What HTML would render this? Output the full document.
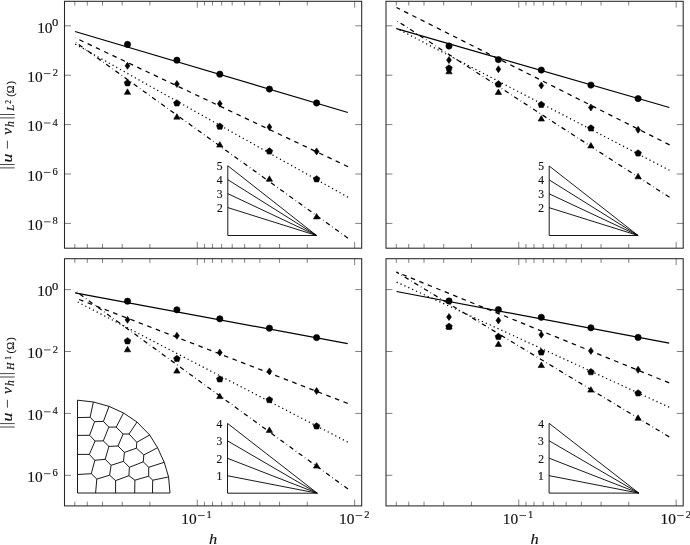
<!DOCTYPE html>
<html><head><meta charset="utf-8"><style>
html,body{margin:0;padding:0;background:#fff;}
body{width:690px;height:545px;overflow:hidden;}
svg{display:block;}
text{font-family:"Liberation Serif",serif;fill:#111;font-kerning:none;stroke:#111;stroke-width:0.15px;}
svg{will-change:transform;}
</style></head><body>
<svg width="690" height="545" viewBox="0 0 690 545">
<rect width="100%" height="100%" fill="#fff"/>
<path d="M197.27,248.2v-6.4M197.27,1.3v6.4M354.63,248.2v-6.4M354.63,1.3v6.4M74.82,248.2v-4.2M74.82,1.3v4.2M87.28,248.2v-4.2M87.28,1.3v4.2M102.53,248.2v-4.2M102.53,1.3v4.2M122.19,248.2v-4.2M122.19,1.3v4.2M149.90,248.2v-4.2M149.90,1.3v4.2M204.47,248.2v-4.2M204.47,1.3v4.2M212.52,248.2v-4.2M212.52,1.3v4.2M221.65,248.2v-4.2M221.65,1.3v4.2M232.18,248.2v-4.2M232.18,1.3v4.2M244.64,248.2v-4.2M244.64,1.3v4.2M259.89,248.2v-4.2M259.89,1.3v4.2M279.55,248.2v-4.2M279.55,1.3v4.2M307.26,248.2v-4.2M307.26,1.3v4.2M64.5,25.80h6.4M361.7,25.80h-6.4M64.5,75.20h6.4M361.7,75.20h-6.4M64.5,124.60h6.4M361.7,124.60h-6.4M64.5,174.00h6.4M361.7,174.00h-6.4M64.5,223.40h6.4M361.7,223.40h-6.4" stroke="#555" stroke-width="0.75"/>
<path d="M347.90,112.50L75.00,31.50" stroke="#000" stroke-width="1.25" fill="none"/>
<path d="M348.10,166.70L75.00,37.70" stroke="#000" stroke-width="1.25" fill="none" stroke-dasharray="4.572 4.572"/>
<path d="M348.00,197.20L75.00,44.00" stroke="#000" stroke-width="1.25" fill="none" stroke-dasharray="1.219 3.048"/>
<path d="M348.00,238.20L75.00,41.80" stroke="#000" stroke-width="1.25" fill="none" stroke-dasharray="4.572 3.048 0.610 3.048"/>
<circle cx="127.50" cy="44.40" r="3.15" fill="#000" stroke="#000" stroke-width="0.6"/>
<circle cx="176.90" cy="60.20" r="3.15" fill="#000" stroke="#000" stroke-width="0.6"/>
<circle cx="219.80" cy="74.20" r="3.15" fill="#000" stroke="#000" stroke-width="0.6"/>
<circle cx="269.40" cy="89.10" r="3.15" fill="#000" stroke="#000" stroke-width="0.6"/>
<circle cx="316.60" cy="103.00" r="3.15" fill="#000" stroke="#000" stroke-width="0.6"/>
<path d="M127.50,62.30L129.90,65.80L127.50,69.30L125.10,65.80Z" fill="#000" stroke="#000" stroke-width="0.6"/>
<path d="M176.90,80.50L179.30,84.00L176.90,87.50L174.50,84.00Z" fill="#000" stroke="#000" stroke-width="0.6"/>
<path d="M219.80,100.20L222.20,103.70L219.80,107.20L217.40,103.70Z" fill="#000" stroke="#000" stroke-width="0.6"/>
<path d="M269.40,123.60L271.80,127.10L269.40,130.60L267.00,127.10Z" fill="#000" stroke="#000" stroke-width="0.6"/>
<path d="M316.60,147.90L319.00,151.40L316.60,154.90L314.20,151.40Z" fill="#000" stroke="#000" stroke-width="0.6"/>
<path d="M127.50,79.65L124.22,82.03L125.47,85.89L129.53,85.89L130.78,82.03Z" fill="#000" stroke="#000" stroke-width="0.6"/>
<path d="M176.90,99.75L173.62,102.13L174.87,105.99L178.93,105.99L180.18,102.13Z" fill="#000" stroke="#000" stroke-width="0.6"/>
<path d="M219.80,123.05L216.52,125.43L217.77,129.29L221.83,129.29L223.08,125.43Z" fill="#000" stroke="#000" stroke-width="0.6"/>
<path d="M269.40,147.85L266.12,150.23L267.37,154.09L271.43,154.09L272.68,150.23Z" fill="#000" stroke="#000" stroke-width="0.6"/>
<path d="M316.60,175.65L313.32,178.03L314.57,181.89L318.63,181.89L319.88,178.03Z" fill="#000" stroke="#000" stroke-width="0.6"/>
<path d="M127.50,88.85L124.34,94.33L130.66,94.33Z" fill="#000" stroke="#000" stroke-width="0.6"/>
<path d="M176.90,113.65L173.74,119.13L180.06,119.13Z" fill="#000" stroke="#000" stroke-width="0.6"/>
<path d="M219.80,141.65L216.64,147.12L222.96,147.12Z" fill="#000" stroke="#000" stroke-width="0.6"/>
<path d="M269.40,175.75L266.24,181.22L272.56,181.22Z" fill="#000" stroke="#000" stroke-width="0.6"/>
<path d="M316.60,213.45L313.44,218.92L319.76,218.92Z" fill="#000" stroke="#000" stroke-width="0.6"/>
<path d="M227.8,235.5H316.6M227.8,235.5V165.75M227.8,207.60L316.6,235.5M227.8,193.65L316.6,235.5M227.8,179.70L316.6,235.5M227.8,165.75L316.6,235.5" stroke="#000" stroke-width="0.9" fill="none"/>
<text x="216.92" y="212.19" font-size="11.6" font-style="normal">2</text>
<text x="216.80" y="198.18" font-size="11.6" font-style="normal">3</text>
<text x="216.83" y="184.27" font-size="11.6" font-style="normal">4</text>
<text x="216.74" y="170.24" font-size="11.6" font-style="normal">5</text>
<rect x="64.5" y="1.3" width="297.20" height="246.90" stroke="#262626" stroke-width="1.05" fill="none"/>
<path d="M518.77,248.2v-6.4M518.77,1.3v6.4M676.13,248.2v-6.4M676.13,1.3v6.4M396.32,248.2v-4.2M396.32,1.3v4.2M408.78,248.2v-4.2M408.78,1.3v4.2M424.03,248.2v-4.2M424.03,1.3v4.2M443.69,248.2v-4.2M443.69,1.3v4.2M471.40,248.2v-4.2M471.40,1.3v4.2M525.97,248.2v-4.2M525.97,1.3v4.2M534.02,248.2v-4.2M534.02,1.3v4.2M543.15,248.2v-4.2M543.15,1.3v4.2M553.68,248.2v-4.2M553.68,1.3v4.2M566.14,248.2v-4.2M566.14,1.3v4.2M581.39,248.2v-4.2M581.39,1.3v4.2M601.05,248.2v-4.2M601.05,1.3v4.2M628.76,248.2v-4.2M628.76,1.3v4.2M386.0,25.80h6.4M683.2,25.80h-6.4M386.0,75.20h6.4M683.2,75.20h-6.4M386.0,124.60h6.4M683.2,124.60h-6.4M386.0,174.00h6.4M683.2,174.00h-6.4M386.0,223.40h6.4M683.2,223.40h-6.4" stroke="#555" stroke-width="0.75"/>
<path d="M669.40,107.50L396.50,28.60" stroke="#000" stroke-width="1.25" fill="none"/>
<path d="M669.60,144.90L396.50,7.50" stroke="#000" stroke-width="1.25" fill="none" stroke-dasharray="4.572 4.572"/>
<path d="M669.50,170.30L396.50,28.20" stroke="#000" stroke-width="1.25" fill="none" stroke-dasharray="1.219 3.048"/>
<path d="M669.50,197.30L396.50,20.50" stroke="#000" stroke-width="1.25" fill="none" stroke-dasharray="4.572 3.048 0.610 3.048"/>
<circle cx="449.00" cy="46.00" r="3.15" fill="#000" stroke="#000" stroke-width="0.6"/>
<circle cx="498.40" cy="59.60" r="3.15" fill="#000" stroke="#000" stroke-width="0.6"/>
<circle cx="541.30" cy="70.10" r="3.15" fill="#000" stroke="#000" stroke-width="0.6"/>
<circle cx="590.90" cy="85.10" r="3.15" fill="#000" stroke="#000" stroke-width="0.6"/>
<circle cx="638.10" cy="98.60" r="3.15" fill="#000" stroke="#000" stroke-width="0.6"/>
<path d="M449.00,56.60L451.40,60.10L449.00,63.60L446.60,60.10Z" fill="#000" stroke="#000" stroke-width="0.6"/>
<path d="M498.40,65.70L500.80,69.20L498.40,72.70L496.00,69.20Z" fill="#000" stroke="#000" stroke-width="0.6"/>
<path d="M541.30,82.00L543.70,85.50L541.30,89.00L538.90,85.50Z" fill="#000" stroke="#000" stroke-width="0.6"/>
<path d="M590.90,104.00L593.30,107.50L590.90,111.00L588.50,107.50Z" fill="#000" stroke="#000" stroke-width="0.6"/>
<path d="M638.10,126.30L640.50,129.80L638.10,133.30L635.70,129.80Z" fill="#000" stroke="#000" stroke-width="0.6"/>
<path d="M449.00,64.85L445.72,67.23L446.97,71.09L451.03,71.09L452.28,67.23Z" fill="#000" stroke="#000" stroke-width="0.6"/>
<path d="M498.40,80.85L495.12,83.23L496.37,87.09L500.43,87.09L501.68,83.23Z" fill="#000" stroke="#000" stroke-width="0.6"/>
<path d="M541.30,101.25L538.02,103.63L539.27,107.49L543.33,107.49L544.58,103.63Z" fill="#000" stroke="#000" stroke-width="0.6"/>
<path d="M590.90,124.75L587.62,127.13L588.87,130.99L592.93,130.99L594.18,127.13Z" fill="#000" stroke="#000" stroke-width="0.6"/>
<path d="M638.10,149.85L634.82,152.23L636.07,156.09L640.13,156.09L641.38,152.23Z" fill="#000" stroke="#000" stroke-width="0.6"/>
<path d="M449.00,68.35L445.84,73.83L452.16,73.83Z" fill="#000" stroke="#000" stroke-width="0.6"/>
<path d="M498.40,89.05L495.24,94.53L501.56,94.53Z" fill="#000" stroke="#000" stroke-width="0.6"/>
<path d="M541.30,115.55L538.14,121.03L544.46,121.03Z" fill="#000" stroke="#000" stroke-width="0.6"/>
<path d="M590.90,142.45L587.74,147.92L594.06,147.92Z" fill="#000" stroke="#000" stroke-width="0.6"/>
<path d="M638.10,173.35L634.94,178.82L641.26,178.82Z" fill="#000" stroke="#000" stroke-width="0.6"/>
<path d="M549.2,235.5H638.1M549.2,235.5V166.00M549.2,207.70L638.1,235.5M549.2,193.80L638.1,235.5M549.2,179.90L638.1,235.5M549.2,166.00L638.1,235.5" stroke="#000" stroke-width="0.9" fill="none"/>
<text x="538.32" y="212.29" font-size="11.6" font-style="normal">2</text>
<text x="538.20" y="198.33" font-size="11.6" font-style="normal">3</text>
<text x="538.23" y="184.47" font-size="11.6" font-style="normal">4</text>
<text x="538.14" y="170.49" font-size="11.6" font-style="normal">5</text>
<rect x="386.0" y="1.3" width="297.20" height="246.90" stroke="#262626" stroke-width="1.05" fill="none"/>
<path d="M197.27,505.9v-6.4M197.27,258.7v6.4M354.63,505.9v-6.4M354.63,258.7v6.4M74.82,505.9v-4.2M74.82,258.7v4.2M87.28,505.9v-4.2M87.28,258.7v4.2M102.53,505.9v-4.2M102.53,258.7v4.2M122.19,505.9v-4.2M122.19,258.7v4.2M149.90,505.9v-4.2M149.90,258.7v4.2M204.47,505.9v-4.2M204.47,258.7v4.2M212.52,505.9v-4.2M212.52,258.7v4.2M221.65,505.9v-4.2M221.65,258.7v4.2M232.18,505.9v-4.2M232.18,258.7v4.2M244.64,505.9v-4.2M244.64,258.7v4.2M259.89,505.9v-4.2M259.89,258.7v4.2M279.55,505.9v-4.2M279.55,258.7v4.2M307.26,505.9v-4.2M307.26,258.7v4.2M64.5,289.60h6.4M361.7,289.60h-6.4M64.5,351.50h6.4M361.7,351.50h-6.4M64.5,413.40h6.4M361.7,413.40h-6.4M64.5,475.30h6.4M361.7,475.30h-6.4" stroke="#555" stroke-width="0.75"/>
<path d="M347.70,343.60L75.00,292.80" stroke="#000" stroke-width="1.25" fill="none"/>
<path d="M347.70,403.40L75.00,297.90" stroke="#000" stroke-width="1.25" fill="none" stroke-dasharray="4.572 4.572"/>
<path d="M347.70,442.10L75.00,300.60" stroke="#000" stroke-width="1.25" fill="none" stroke-dasharray="1.219 3.048"/>
<path d="M348.00,489.00L75.00,290.70" stroke="#000" stroke-width="1.25" fill="none" stroke-dasharray="4.572 3.048 0.610 3.048"/>
<circle cx="127.50" cy="301.20" r="3.15" fill="#000" stroke="#000" stroke-width="0.6"/>
<circle cx="176.90" cy="309.80" r="3.15" fill="#000" stroke="#000" stroke-width="0.6"/>
<circle cx="219.80" cy="318.80" r="3.15" fill="#000" stroke="#000" stroke-width="0.6"/>
<circle cx="269.40" cy="328.20" r="3.15" fill="#000" stroke="#000" stroke-width="0.6"/>
<circle cx="316.60" cy="337.60" r="3.15" fill="#000" stroke="#000" stroke-width="0.6"/>
<path d="M127.50,316.30L129.90,319.80L127.50,323.30L125.10,319.80Z" fill="#000" stroke="#000" stroke-width="0.6"/>
<path d="M176.90,332.30L179.30,335.80L176.90,339.30L174.50,335.80Z" fill="#000" stroke="#000" stroke-width="0.6"/>
<path d="M219.80,349.10L222.20,352.60L219.80,356.10L217.40,352.60Z" fill="#000" stroke="#000" stroke-width="0.6"/>
<path d="M269.40,367.90L271.80,371.40L269.40,374.90L267.00,371.40Z" fill="#000" stroke="#000" stroke-width="0.6"/>
<path d="M316.60,387.50L319.00,391.00L316.60,394.50L314.20,391.00Z" fill="#000" stroke="#000" stroke-width="0.6"/>
<path d="M127.50,337.65L124.22,340.03L125.47,343.89L129.53,343.89L130.78,340.03Z" fill="#000" stroke="#000" stroke-width="0.6"/>
<path d="M176.90,355.35L173.62,357.73L174.87,361.59L178.93,361.59L180.18,357.73Z" fill="#000" stroke="#000" stroke-width="0.6"/>
<path d="M219.80,375.75L216.52,378.13L217.77,381.99L221.83,381.99L223.08,378.13Z" fill="#000" stroke="#000" stroke-width="0.6"/>
<path d="M269.40,396.45L266.12,398.83L267.37,402.69L271.43,402.69L272.68,398.83Z" fill="#000" stroke="#000" stroke-width="0.6"/>
<path d="M316.60,422.75L313.32,425.13L314.57,428.99L318.63,428.99L319.88,425.13Z" fill="#000" stroke="#000" stroke-width="0.6"/>
<path d="M127.50,346.35L124.34,351.82L130.66,351.82Z" fill="#000" stroke="#000" stroke-width="0.6"/>
<path d="M176.90,367.65L173.74,373.12L180.06,373.12Z" fill="#000" stroke="#000" stroke-width="0.6"/>
<path d="M219.80,393.15L216.64,398.62L222.96,398.62Z" fill="#000" stroke="#000" stroke-width="0.6"/>
<path d="M269.40,426.95L266.24,432.42L272.56,432.42Z" fill="#000" stroke="#000" stroke-width="0.6"/>
<path d="M316.60,462.65L313.44,468.12L319.76,468.12Z" fill="#000" stroke="#000" stroke-width="0.6"/>
<path d="M227.5,493.2H317.3M227.5,493.2V423.40M227.5,475.75L317.3,493.2M227.5,458.30L317.3,493.2M227.5,440.85L317.3,493.2M227.5,423.40L317.3,493.2" stroke="#000" stroke-width="0.9" fill="none"/>
<text x="216.39" y="480.33" font-size="11.6" font-style="normal">1</text>
<text x="216.62" y="462.89" font-size="11.6" font-style="normal">2</text>
<text x="216.50" y="445.38" font-size="11.6" font-style="normal">3</text>
<text x="216.53" y="427.97" font-size="11.6" font-style="normal">4</text>
<rect x="64.5" y="258.7" width="297.20" height="247.20" stroke="#262626" stroke-width="1.05" fill="none"/>
<path d="M518.77,505.9v-6.4M518.77,258.7v6.4M676.13,505.9v-6.4M676.13,258.7v6.4M396.32,505.9v-4.2M396.32,258.7v4.2M408.78,505.9v-4.2M408.78,258.7v4.2M424.03,505.9v-4.2M424.03,258.7v4.2M443.69,505.9v-4.2M443.69,258.7v4.2M471.40,505.9v-4.2M471.40,258.7v4.2M525.97,505.9v-4.2M525.97,258.7v4.2M534.02,505.9v-4.2M534.02,258.7v4.2M543.15,505.9v-4.2M543.15,258.7v4.2M553.68,505.9v-4.2M553.68,258.7v4.2M566.14,505.9v-4.2M566.14,258.7v4.2M581.39,505.9v-4.2M581.39,258.7v4.2M601.05,505.9v-4.2M601.05,258.7v4.2M628.76,505.9v-4.2M628.76,258.7v4.2M386.0,289.60h6.4M683.2,289.60h-6.4M386.0,351.50h6.4M683.2,351.50h-6.4M386.0,413.40h6.4M683.2,413.40h-6.4M386.0,475.30h6.4M683.2,475.30h-6.4" stroke="#555" stroke-width="0.75"/>
<path d="M669.20,343.20L396.50,291.50" stroke="#000" stroke-width="1.25" fill="none"/>
<path d="M669.20,382.90L396.50,272.10" stroke="#000" stroke-width="1.25" fill="none" stroke-dasharray="4.572 4.572"/>
<path d="M669.20,407.20L396.50,282.00" stroke="#000" stroke-width="1.25" fill="none" stroke-dasharray="1.219 3.048"/>
<path d="M669.20,436.90L396.50,272.10" stroke="#000" stroke-width="1.25" fill="none" stroke-dasharray="4.572 3.048 0.610 3.048"/>
<circle cx="449.00" cy="301.00" r="3.15" fill="#000" stroke="#000" stroke-width="0.6"/>
<circle cx="498.40" cy="309.60" r="3.15" fill="#000" stroke="#000" stroke-width="0.6"/>
<circle cx="541.30" cy="317.30" r="3.15" fill="#000" stroke="#000" stroke-width="0.6"/>
<circle cx="590.90" cy="327.80" r="3.15" fill="#000" stroke="#000" stroke-width="0.6"/>
<circle cx="638.10" cy="337.40" r="3.15" fill="#000" stroke="#000" stroke-width="0.6"/>
<path d="M449.00,313.50L451.40,317.00L449.00,320.50L446.60,317.00Z" fill="#000" stroke="#000" stroke-width="0.6"/>
<path d="M498.40,317.00L500.80,320.50L498.40,324.00L496.00,320.50Z" fill="#000" stroke="#000" stroke-width="0.6"/>
<path d="M541.30,331.20L543.70,334.70L541.30,338.20L538.90,334.70Z" fill="#000" stroke="#000" stroke-width="0.6"/>
<path d="M590.90,347.40L593.30,350.90L590.90,354.40L588.50,350.90Z" fill="#000" stroke="#000" stroke-width="0.6"/>
<path d="M638.10,366.30L640.50,369.80L638.10,373.30L635.70,369.80Z" fill="#000" stroke="#000" stroke-width="0.6"/>
<path d="M449.00,323.15L445.72,325.53L446.97,329.39L451.03,329.39L452.28,325.53Z" fill="#000" stroke="#000" stroke-width="0.6"/>
<path d="M498.40,333.35L495.12,335.73L496.37,339.59L500.43,339.59L501.68,335.73Z" fill="#000" stroke="#000" stroke-width="0.6"/>
<path d="M541.30,348.85L538.02,351.23L539.27,355.09L543.33,355.09L544.58,351.23Z" fill="#000" stroke="#000" stroke-width="0.6"/>
<path d="M590.90,368.55L587.62,370.93L588.87,374.79L592.93,374.79L594.18,370.93Z" fill="#000" stroke="#000" stroke-width="0.6"/>
<path d="M638.10,389.75L634.82,392.13L636.07,395.99L640.13,395.99L641.38,392.13Z" fill="#000" stroke="#000" stroke-width="0.6"/>
<path d="M449.00,323.55L445.84,329.02L452.16,329.02Z" fill="#000" stroke="#000" stroke-width="0.6"/>
<path d="M498.40,340.95L495.24,346.42L501.56,346.42Z" fill="#000" stroke="#000" stroke-width="0.6"/>
<path d="M541.30,362.05L538.14,367.52L544.46,367.52Z" fill="#000" stroke="#000" stroke-width="0.6"/>
<path d="M590.90,386.65L587.74,392.12L594.06,392.12Z" fill="#000" stroke="#000" stroke-width="0.6"/>
<path d="M638.10,414.85L634.94,420.32L641.26,420.32Z" fill="#000" stroke="#000" stroke-width="0.6"/>
<path d="M549.1,493.1H638.8M549.1,493.1V423.30M549.1,475.65L638.8,493.1M549.1,458.20L638.8,493.1M549.1,440.75L638.8,493.1M549.1,423.30L638.8,493.1" stroke="#000" stroke-width="0.9" fill="none"/>
<text x="537.99" y="480.23" font-size="11.6" font-style="normal">1</text>
<text x="538.22" y="462.79" font-size="11.6" font-style="normal">2</text>
<text x="538.10" y="445.28" font-size="11.6" font-style="normal">3</text>
<text x="538.13" y="427.87" font-size="11.6" font-style="normal">4</text>
<rect x="386.0" y="258.7" width="297.20" height="247.20" stroke="#262626" stroke-width="1.05" fill="none"/>
<path d="M77.50,400.20L93.39,401.98L109.03,406.36L123.51,412.99L137.02,422.06L149.67,434.98L157.57,447.70L164.22,462.29L168.59,476.94L170.00,493.00L77.5,493.0ZM93.39,401.98L90.10,417.30M77.50,417.60L90.10,417.30M90.10,417.30L94.60,421.70M94.60,421.70L103.40,421.40M109.03,406.36L103.40,421.40M103.40,421.40L108.80,427.10M108.80,427.10L116.20,427.10M123.51,412.99L116.20,427.10M108.80,427.10L103.30,440.90M116.20,427.10L123.10,434.00M123.10,434.00L129.00,434.00M137.02,422.06L129.00,434.00M129.00,434.00L136.80,442.30M149.67,434.98L136.80,442.30M136.80,442.30L136.40,448.20M123.10,434.00L118.00,446.00M94.60,421.70L89.60,435.30M77.50,435.40L89.60,435.30M89.60,435.30L95.10,441.00M95.10,441.00L103.30,440.90M103.30,440.90L108.90,446.40M108.90,446.40L118.00,446.00M118.00,446.00L124.40,452.40M124.40,452.40L136.40,448.20M136.40,448.20L143.80,454.90M157.57,447.70L143.80,454.90M143.80,454.90L143.30,461.80M143.30,461.80L129.40,467.30M143.30,461.80L148.70,467.30M164.22,462.29L148.70,467.30M148.70,467.30L148.70,476.20M148.70,476.20L134.90,480.20M148.70,476.20L152.70,480.20M168.59,476.94L152.70,480.20M152.70,480.20L152.50,493.00M134.90,480.20L134.70,493.00M134.90,480.20L128.90,475.70M128.90,475.70L129.40,467.30M128.90,475.70L115.60,480.60M115.60,480.60L115.60,493.00M115.60,480.60L109.60,475.20M109.60,475.20L96.80,479.10M109.60,475.20L111.10,465.30M96.80,479.10L95.60,493.00M96.80,479.10L91.30,473.70M91.30,473.70L77.50,474.50M91.30,473.70L94.80,460.30M94.80,460.30L89.30,454.40M89.30,454.40L77.50,454.40M89.30,454.40L95.10,441.00M94.80,460.30L105.20,459.30M105.20,459.30L108.90,446.40M105.20,459.30L111.10,465.30M111.10,465.30L123.50,461.30M123.50,461.30L124.40,452.40M123.50,461.30L129.40,467.30" stroke="#000" stroke-width="0.9" fill="none" stroke-linejoin="round"/>
<text x="37.17" y="32.60" font-size="15.4" font-style="normal">10</text>
<text transform="translate(51.89,26.25) scale(1.15,1.0)" font-size="11.0" font-style="normal">0</text>
<text x="27.27" y="81.85" font-size="15.4" font-style="normal">10</text>
<path d="M43.90,73.60h6.6" stroke="#111" stroke-width="0.75"/>
<text x="52.63" y="76.28" font-size="10.5" font-style="normal">2</text>
<text x="27.27" y="131.25" font-size="15.4" font-style="normal">10</text>
<path d="M43.90,123.00h6.6" stroke="#111" stroke-width="0.75"/>
<text x="52.55" y="125.66" font-size="10.5" font-style="normal">4</text>
<text x="27.27" y="180.65" font-size="15.4" font-style="normal">10</text>
<path d="M43.90,172.40h6.6" stroke="#111" stroke-width="0.75"/>
<text x="52.51" y="175.02" font-size="10.5" font-style="normal">6</text>
<text x="27.27" y="230.05" font-size="15.4" font-style="normal">10</text>
<path d="M43.90,221.80h6.6" stroke="#111" stroke-width="0.75"/>
<text x="52.57" y="224.44" font-size="10.5" font-style="normal">8</text>
<text x="37.17" y="296.40" font-size="15.4" font-style="normal">10</text>
<text transform="translate(51.89,290.05) scale(1.15,1.0)" font-size="11.0" font-style="normal">0</text>
<text x="27.27" y="358.15" font-size="15.4" font-style="normal">10</text>
<path d="M43.90,349.90h6.6" stroke="#111" stroke-width="0.75"/>
<text x="52.63" y="352.58" font-size="10.5" font-style="normal">2</text>
<text x="27.27" y="420.05" font-size="15.4" font-style="normal">10</text>
<path d="M43.90,411.80h6.6" stroke="#111" stroke-width="0.75"/>
<text x="52.55" y="414.46" font-size="10.5" font-style="normal">4</text>
<text x="27.27" y="481.95" font-size="15.4" font-style="normal">10</text>
<path d="M43.90,473.70h6.6" stroke="#111" stroke-width="0.75"/>
<text x="52.51" y="476.32" font-size="10.5" font-style="normal">6</text>
<text x="181.29" y="523.80" font-size="15.4" font-style="normal">10</text>
<path d="M197.92,515.55h6.6" stroke="#111" stroke-width="0.75"/>
<text x="206.45" y="518.22" font-size="10.5" font-style="normal">1</text>
<text x="338.95" y="523.80" font-size="15.4" font-style="normal">10</text>
<path d="M355.58,515.55h6.6" stroke="#111" stroke-width="0.75"/>
<text x="364.31" y="518.23" font-size="10.5" font-style="normal">2</text>
<text transform="translate(208.91,544.17) scale(1.12,1.0)" font-size="14.6" font-style="italic">h</text>
<text x="502.79" y="523.80" font-size="15.4" font-style="normal">10</text>
<path d="M519.42,515.55h6.6" stroke="#111" stroke-width="0.75"/>
<text x="527.95" y="518.22" font-size="10.5" font-style="normal">1</text>
<text x="660.45" y="523.80" font-size="15.4" font-style="normal">10</text>
<path d="M677.08,515.55h6.6" stroke="#111" stroke-width="0.75"/>
<text x="685.81" y="518.23" font-size="10.5" font-style="normal">2</text>
<text transform="translate(530.41,544.17) scale(1.12,1.0)" font-size="14.6" font-style="italic">h</text>
<path d="M0,114.50H14.7M0,117.90H14.7M0,164.50H14.7M0,167.90H14.7" stroke="#1a1a1a" stroke-width="0.8"/>
<text transform="translate(12.26,162.41) rotate(-90) scale(1.22,0.95)" font-size="14.4" font-style="italic">u</text>
<path d="M7.4,148.60V140.70" stroke="#1a1a1a" stroke-width="0.8"/>
<text transform="translate(12.18,134.81) rotate(-90) scale(1.05,1.0)" font-size="14.6" font-style="italic">v</text>
<text transform="translate(14.02,127.02) rotate(-90)" font-size="11.6" font-style="italic">h</text>
<text transform="translate(14.09,110.71) rotate(-90)" font-size="10.5" font-style="italic">L</text>
<text transform="translate(10.68,103.70) rotate(-90) scale(1.05,1.0)" font-size="7.2" font-style="normal">2</text>
<text transform="translate(13.68,96.86) rotate(-90)" font-size="10.5" font-style="normal">(</text>
<text transform="translate(13.83,93.15) rotate(-90)" font-size="10.5" font-style="normal">Ω</text>
<text transform="translate(13.68,84.49) rotate(-90)" font-size="10.5" font-style="normal">)</text>
<path d="M0,373.60H14.7M0,377.00H14.7M0,423.60H14.7M0,427.00H14.7" stroke="#1a1a1a" stroke-width="0.8"/>
<text transform="translate(12.26,421.51) rotate(-90) scale(1.22,0.95)" font-size="14.4" font-style="italic">u</text>
<path d="M7.4,407.70V399.80" stroke="#1a1a1a" stroke-width="0.8"/>
<text transform="translate(12.18,393.91) rotate(-90) scale(1.05,1.0)" font-size="14.6" font-style="italic">v</text>
<text transform="translate(14.02,386.12) rotate(-90)" font-size="11.6" font-style="italic">h</text>
<text transform="translate(13.94,369.97) rotate(-90)" font-size="10.5" font-style="italic">H</text>
<text transform="translate(11.18,359.70) rotate(-90) scale(1.05,1.0)" font-size="7.2" font-style="normal">1</text>
<text transform="translate(13.68,353.46) rotate(-90)" font-size="10.5" font-style="normal">(</text>
<text transform="translate(13.78,349.65) rotate(-90)" font-size="10.5" font-style="normal">Ω</text>
<text transform="translate(13.68,340.84) rotate(-90)" font-size="10.5" font-style="normal">)</text>
</svg>
</body></html>
